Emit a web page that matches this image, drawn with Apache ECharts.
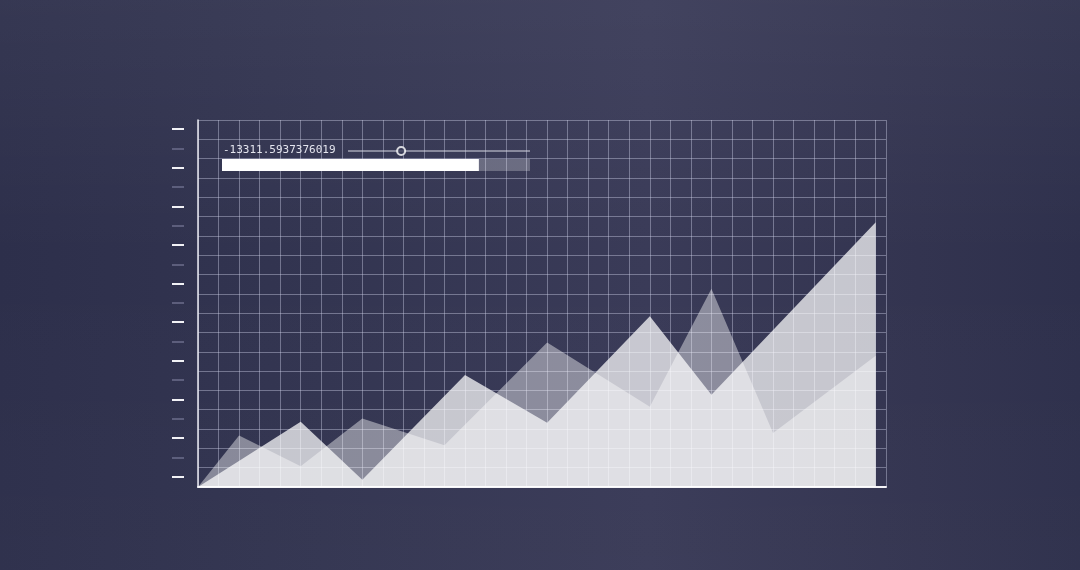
<!DOCTYPE html>
<html>
<head>
<meta charset="utf-8">
<script src="https://cdn.jsdelivr.net/npm/echarts@6/dist/echarts.min.js"></script>
<style>
html,body{margin:0;padding:0;background:#33354f;}
#chart{width:1080px;height:570px;}
</style>
</head>
<body>
<div id="chart"></div>
<script>
// ---- data (grid units) ----
const frontX = [0, 5, 8, 13, 17, 22, 25, 33];
const frontY = [0, 3.38, 0.38, 5.8, 3.33, 8.84, 4.78, 13.71];
const backX = [0, 2, 5, 8, 12, 17, 22, 25, 28, 33];
const backY = [0, 2.66, 1.07, 3.54, 2.16, 7.48, 4.16, 10.27, 2.8, 6.8];
const brightTicks = [0.53, 2.53, 4.53, 6.53, 8.53, 10.53, 12.53, 14.53, 16.53, 18.53];
const dimTicks = [1.53, 3.53, 5.53, 7.53, 9.53, 11.53, 13.53, 15.53, 17.53];
const readoutText = '-13311.5937376019';
const progressValue = [0.834];
const sliderTrack = [[0, 0], [1, 0]];
const sliderKnob = [[0.292, 0]];

const zip = (xs, ys) => xs.map((x, i) => [x, ys[i]]);

const gridColor = 'rgba(205,207,230,0.42)';

const chart = echarts.init(document.getElementById('chart'), null, {renderer: 'canvas'});
chart.setOption({
  animation: false,
  backgroundColor: {
    type: 'linear', x: 0, y: 0, x2: 1, y2: 0,
    colorStops: [
      {offset: 0, color: '#2d2f4b'},
      {offset: 0.3, color: '#333551'},
      {offset: 0.6, color: '#3a3b58'},
      {offset: 0.85, color: '#333450'},
      {offset: 1, color: '#2e304c'}
    ]
  },
  graphic: [{
    type: 'rect', left: 0, top: 0, z: -100, silent: true,
    shape: {width: 1080, height: 570},
    style: {
      fill: {
        type: 'linear', x: 0, y: 0, x2: 0, y2: 1,
        colorStops: [
          {offset: 0, color: 'rgba(255,255,255,0.045)'},
          {offset: 0.45, color: 'rgba(255,255,255,0.0)'},
          {offset: 1, color: 'rgba(255,255,255,0.015)'}
        ]
      }
    }
  }],
  title: {
    text: readoutText,
    left: 223, top: 145, padding: 0,
    textStyle: {fontFamily: 'DejaVu Sans Mono', fontSize: 11, fontWeight: 'normal', color: '#e4e5ee'}
  },
  grid: [
    {left: 198, top: 120, right: 194, bottom: 83},
    {left: 222, top: 159, width: 308, height: 12},
    {left: 348, top: 145, width: 182, height: 12}
  ],
  xAxis: [
    {
      gridIndex: 0, type: 'value', min: 0, max: 33.5, interval: 1,
      axisLine: {show: true, lineStyle: {color: '#f4f4f8', width: 2}},
      axisTick: {show: false}, axisLabel: {show: false},
      splitLine: {show: true, lineStyle: {color: gridColor, width: 1}}
    },
    {gridIndex: 1, type: 'value', min: 0, max: 1, show: false},
    {gridIndex: 2, type: 'value', min: 0, max: 1, show: false}
  ],
  yAxis: [
    {
      gridIndex: 0, type: 'value', min: 0, max: 19, interval: 1,
      axisLine: {show: true, lineStyle: {color: '#e8e8f0', width: 1.5}},
      axisTick: {show: false}, axisLabel: {show: false},
      splitLine: {show: true, lineStyle: {color: gridColor, width: 1}}
    },
    {
      gridIndex: 0, type: 'value', min: 0, max: 19, position: 'left', offset: 14,
      axisLine: {show: false}, axisLabel: {show: false}, splitLine: {show: false},
      axisTick: {show: true, length: 12, customValues: brightTicks, lineStyle: {color: '#f2f2f6', width: 2}}
    },
    {
      gridIndex: 0, type: 'value', min: 0, max: 19, position: 'left', offset: 14,
      axisLine: {show: false}, axisLabel: {show: false}, splitLine: {show: false},
      axisTick: {show: true, length: 12, customValues: dimTicks, lineStyle: {color: '#6c6e8c', width: 1.5}}
    },
    {gridIndex: 1, type: 'category', data: ['p'], show: false},
    {gridIndex: 2, type: 'value', min: -1, max: 1, show: false}
  ],
  series: [
    {
      name: 'back', type: 'line', xAxisIndex: 0, yAxisIndex: 0,
      data: zip(backX, backY), symbol: 'none', smooth: false,
      lineStyle: {width: 0},
      areaStyle: {color: '#ffffff', opacity: 0.42, origin: 'start'},
      z: 2
    },
    {
      name: 'front', type: 'line', xAxisIndex: 0, yAxisIndex: 0,
      data: zip(frontX, frontY), symbol: 'none', smooth: false,
      lineStyle: {width: 0},
      areaStyle: {color: '#ffffff', opacity: 0.72, origin: 'start'},
      z: 3
    },
    {
      name: 'progress', type: 'bar', xAxisIndex: 1, yAxisIndex: 3,
      data: progressValue, barWidth: 12,
      itemStyle: {color: '#ffffff'},
      showBackground: true,
      backgroundStyle: {color: 'rgba(255,255,255,0.25)'}
    },
    {
      name: 'track', type: 'line', xAxisIndex: 2, yAxisIndex: 4,
      data: sliderTrack, symbol: 'none',
      lineStyle: {color: '#d8d9e4', width: 1}
    },
    {
      name: 'knob', type: 'scatter', xAxisIndex: 2, yAxisIndex: 4,
      data: sliderKnob, symbol: 'circle', symbolSize: 8,
      itemStyle: {color: '#3a3c58', borderColor: '#ffffff', borderWidth: 2},
      z: 5
    }
  ]
});
</script>
</body>
</html>
